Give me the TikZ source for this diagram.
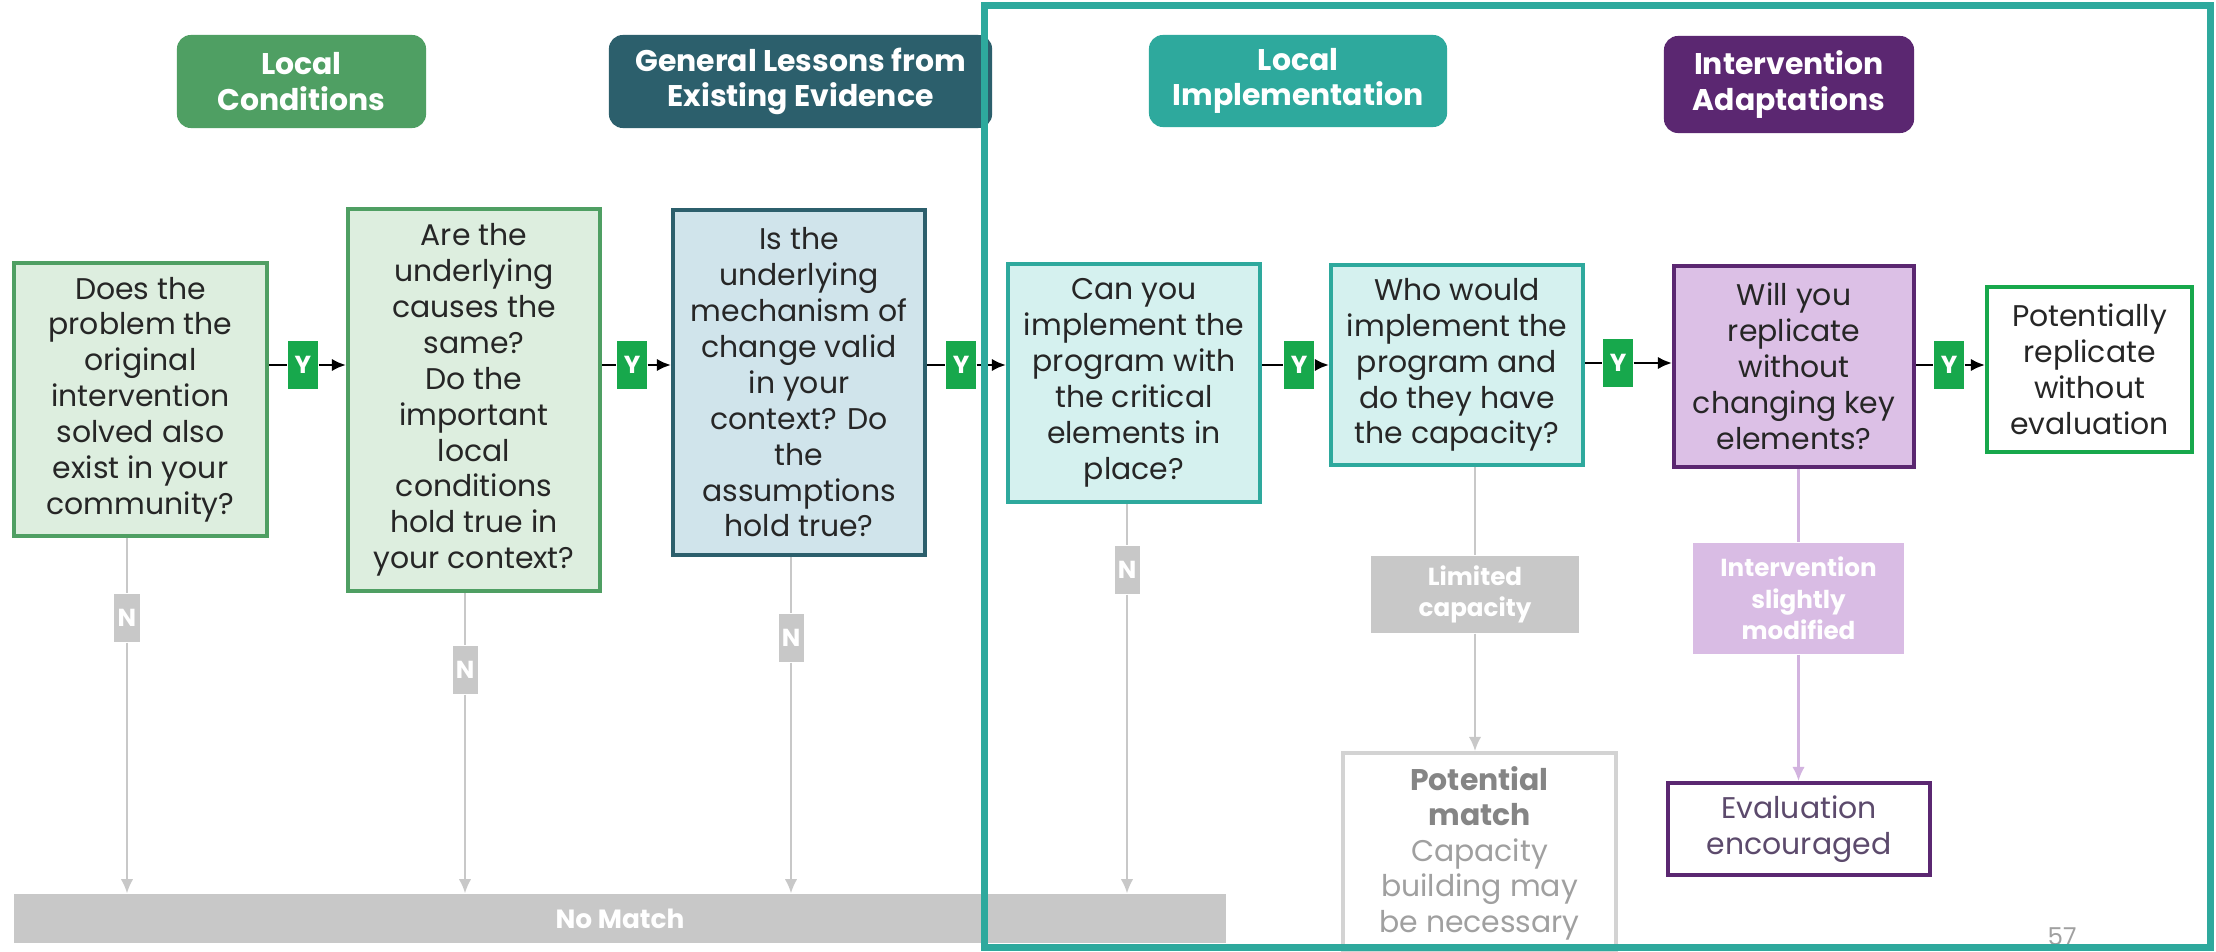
\documentclass[tikz,border=0pt]{standalone}
\usepackage{fontspec}
\setmainfont{Poppins}
\usetikzlibrary{arrows.meta}

\definecolor{condgreen}{HTML}{4F9F63}
\definecolor{condfill}{HTML}{DDEEDF}
\definecolor{evidteal}{HTML}{2C5F6C}
\definecolor{evidfill}{HTML}{D0E4EB}
\definecolor{implteal}{HTML}{2EA99D}
\definecolor{implfill}{HTML}{D5F1EF}
\definecolor{adaptpurple}{HTML}{5B2771}
\definecolor{adaptfill}{HTML}{DCC0E6}
\definecolor{modfill}{HTML}{D9BCE4}
\definecolor{modline}{HTML}{D2B3DF}
\definecolor{yesgreen}{HTML}{17A84C}
\definecolor{nogray}{HTML}{C8C8C8}
\definecolor{potgray}{HTML}{858585}
\definecolor{potlight}{HTML}{A0A0A0}
\definecolor{evaltext}{HTML}{5C4A6C}

\tikzset{
  header/.style={rounded corners=0.14cm, fill=#1, text=white, align=center,
    inner sep=0pt, font=\fontsize{8.5}{10}\selectfont\bfseries},
  question/.style={draw=#1, line width=1.1pt, align=center, inner sep=0pt,
    text=black!85, font=\fontsize{8.5}{10.2}\selectfont},
  result/.style={fill=#1, text=white, align=center, inner sep=0pt,
    font=\fontsize{7}{9}\selectfont\bfseries},
  ytag/.style={fill=yesgreen, text=white, minimum width=0.3cm, minimum height=0.48cm,
    inner sep=0pt, font=\fontsize{7}{8}\selectfont\bfseries},
  ntag/.style={fill=nogray, text=white, minimum width=0.25cm, minimum height=0.48cm,
    inner sep=0pt, font=\fontsize{7}{8}\selectfont\bfseries},
  yline/.style={->, line width=0.7pt, black},
  nline/.style={->, line width=0.5pt, nogray},
}

\begin{document}
\begin{tikzpicture}[x=0.01cm, y=-0.01cm, >={Latex[length=4pt,width=3.5pt]}]
  \fill[white] (0,0) rectangle (2216,952);
  \useasboundingbox (0,0) rectangle (2216,952);

  % column headers
  \node[header=condgreen, minimum width=2.49cm, minimum height=0.93cm] (hcond) at (301.5,81.5) {Local\\Conditions};
  \node[header=evidteal, minimum width=3.83cm, minimum height=0.93cm] (hevid) at (800.5,81.5) {General Lessons from\\Existing Evidence};
  \node[header=implteal, minimum width=2.98cm, minimum height=0.92cm] (himpl) at (1298,81) {Local\\Implementation};
  \node[header=adaptpurple, minimum width=2.50cm, minimum height=0.97cm] (hadapt) at (1789,84.5) {Intervention\\Adaptations};

  % questions
  \node[question=condgreen, fill=condfill, minimum width=2.53cm, minimum height=2.73cm] (q1) at (140.5,399.5)
    {Does the\\problem the\\original\\intervention\\solved also\\exist in your\\community?};
  \node[question=condgreen, fill=condfill, minimum width=2.52cm, minimum height=3.82cm] (q2) at (474,400)
    {Are the\\underlying\\causes the\\same?\\Do the\\important\\local\\conditions\\hold true in\\your context?};
  \node[question=evidteal, fill=evidfill, minimum width=2.52cm, minimum height=3.45cm] (q3) at (799,382.5)
    {Is the\\underlying\\mechanism of\\change valid\\in your\\context? Do\\the\\assumptions\\hold true?};
  \node[question=implteal, fill=implfill, minimum width=2.52cm, minimum height=2.38cm] (q4) at (1134,383)
    {Can you\\implement the\\program with\\the critical\\elements in\\place?};
  \node[question=implteal, fill=implfill, minimum width=2.52cm, minimum height=2.00cm] (q5) at (1457,365)
    {Who would\\implement the\\program and\\do they have\\the capacity?};
  \node[question=adaptpurple, fill=adaptfill, minimum width=2.40cm, minimum height=2.01cm] (q6) at (1794,366.5)
    {Will you\\replicate\\without\\changing key\\elements?};
  \node[question=yesgreen, fill=white, minimum width=2.05cm, minimum height=1.65cm] (q7) at (2089.5,369.5)
    {Potentially\\replicate\\without\\evaluation};

  % yes path
  \node[ytag] (y1) at (303,365) {Y};
  \node[ytag] (y2) at (632,365) {Y};
  \node[ytag] (y3) at (961,365) {Y};
  \node[ytag] (y4) at (1299,365) {Y};
  \node[ytag] (y5) at (1618,363) {Y};
  \node[ytag] (y6) at (1949,365) {Y};
  \draw[yline] (q1.east |- y1) -- (y1) -- (q2.west |- y1);
  \draw[yline] (q2.east |- y2) -- (y2) -- (q3.west |- y2);
  \draw[yline] (q3.east |- y3) -- (y3) -- (q4.west |- y3);
  \draw[yline] (q4.east |- y4) -- (y4) -- (q5.west |- y4);
  \draw[yline] (q5.east |- y5) -- (y5) -- (q6.west |- y5);
  \draw[yline] (q6.east |- y6) -- (y6) -- (q7.west |- y6);

  % no path
  \node[fill=nogray, text=white, minimum width=12.12cm, minimum height=0.49cm, inner sep=0pt,
    font=\fontsize{7.5}{9}\selectfont\bfseries] (nomatch) at (620,918.5) {No Match};
  \node[ntag] (n1) at (127,618) {N};
  \node[ntag] (n2) at (465,670) {N};
  \node[ntag] (n3) at (791,638) {N};
  \node[ntag] (n4) at (1127,570) {N};
  \draw[nline] (q1.south -| n1) -- (n1) -- (nomatch.north -| n1);
  \draw[nline] (q2.south -| n2) -- (n2) -- (nomatch.north -| n2);
  \draw[nline] (q3.south -| n3) -- (n3) -- (nomatch.north -| n3);
  \draw[nline] (q4.south -| n4) -- (n4) -- (nomatch.north -| n4);

  % capacity and adaptation branches
  \node[result=nogray, minimum width=2.08cm, minimum height=0.77cm] (limited) at (1475,594.5) {Limited\\capacity};
  \node[draw=nogray!80, line width=1.1pt, fill=white, align=center, inner sep=0pt, text=potgray,
    minimum width=2.73cm, minimum height=2.00cm, font=\fontsize{8.5}{10.1}\selectfont] (potential) at (1479.5,853)
    {\textbf{Potential}\\\textbf{match}\\\textcolor{potlight}{Capacity}\\\textcolor{potlight}{building may}\\\textcolor{potlight}{be necessary}};
  \draw[nline, -] (q5.south -| limited) -- (limited);
  \draw[nline] (limited) -- (limited |- potential.north);

  \node[result=modfill, minimum width=2.11cm, minimum height=1.11cm] (modified) at (1798.5,598.5) {Intervention\\slightly\\modified};
  \node[question=adaptpurple, fill=white, text=evaltext, minimum width=2.62cm, minimum height=0.92cm] (encouraged) at (1799,829)
    {Evaluation\\encouraged};
  \draw[line width=0.6pt, modline] (q6.south -| modified) -- (modified);
  \draw[->, line width=0.6pt, modline] (modified) -- (modified |- encouraged.north);

  \node[text=potlight, font=\fontsize{7}{8}\selectfont] (pagenum) at (2062,937) {57};

  % highlight frame
  \draw[implteal, line width=2pt] (984.5,5.5) rectangle (2210.5,947.5);
\end{tikzpicture}
\end{document}
